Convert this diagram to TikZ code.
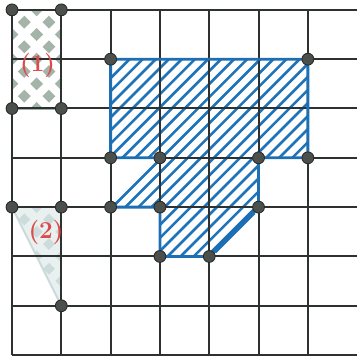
\documentclass[tikz,border=0pt]{standalone}
\definecolor{gridc}{RGB}{45,50,48}
\definecolor{bluec}{RGB}{30,110,180}
\definecolor{hatchc}{RGB}{30,115,185}
\definecolor{dotf}{RGB}{75,80,76}
\definecolor{dotd}{RGB}{40,42,40}
\definecolor{lblc}{RGB}{222,75,75}
\definecolor{diamc}{RGB}{165,180,168}
\definecolor{diamfc}{RGB}{190,205,205}
\definecolor{rectc}{RGB}{160,178,165}
\definecolor{trifill}{RGB}{232,240,240}
\definecolor{triedge}{RGB}{205,218,220}
\begin{document}
\begin{tikzpicture}[x=1cm,y=1cm,
  gridline/.style={draw=gridc, line width=1.15pt},
  blueline/.style={draw=bluec, line width=1.6pt, line join=round},
  hatchline/.style={draw=hatchc, line width=1.5pt},
  dot/.style={circle, fill=dotf, draw=dotd, line width=0.5pt, inner sep=0pt, minimum size=0.24cm},
  lbl/.style={text=lblc, font=\bfseries\fontsize{14}{16}\selectfont, inner sep=0pt},
  diam/.style={fill=diamc},
  diamfaint/.style={fill=diamfc, fill opacity=0.6}
]
\useasboundingbox (-0.243,-0.10) rectangle (6.98,7.20);

% shape (1): checkered rectangle
\begin{scope}
  \clip (0,5) rectangle (1,7);
  \fill[white] (0,5) rectangle (1,7);
  \foreach \a in {0,...,4} {
    \foreach \b in {20,...,28} {
      \pgfmathtruncatemacro{\myparity}{mod(\a+\b,2)}
      \ifnum\myparity=0
        \fill[diam] ({\a*0.25},{\b*0.25+0.13}) -- ({\a*0.25+0.13},{\b*0.25}) -- ({\a*0.25},{\b*0.25-0.13}) -- ({\a*0.25-0.13},{\b*0.25}) -- cycle;
      \fi
    }
  }
\end{scope}
\draw[draw=rectc, line width=1.2pt] (0,5) rectangle (1,7);

% shape (2): faint triangle
\begin{scope}
  \clip (0,3) -- (1,3) -- (1,1) -- cycle;
  \fill[fill=trifill] (0,3) -- (1,3) -- (1,1) -- cycle;
  \foreach \a in {0,...,4} {
    \foreach \b in {4,...,12} {
      \pgfmathtruncatemacro{\myparity}{mod(\a+\b,2)}
      \ifnum\myparity=0
        \fill[diamfaint] ({\a*0.25},{\b*0.25+0.12}) -- ({\a*0.25+0.12},{\b*0.25}) -- ({\a*0.25},{\b*0.25-0.12}) -- ({\a*0.25-0.12},{\b*0.25}) -- cycle;
      \fi
    }
  }
\end{scope}
\draw[draw=triedge, line width=1.2pt] (0,3) -- (1,1);

% blue hatched region
\begin{scope}
  \clip (2,6) -- (6,6) -- (6,4) -- (5,4) -- (5,3) -- (4,2) -- (3,2) -- (3,3) -- (2,3) -- (3,4) -- (2,4) -- cycle;
  \foreach \c in {-6,-5.735,...,6} {
    \draw[hatchline] ({\c-1},-1) -- ({\c+9},9);
  }
\end{scope}

% grid
\foreach \i in {0,...,6} {
  \draw[gridline] (\i,0) -- (\i,7);
}
\foreach \j in {0,...,7} {
  \draw[gridline] (0,\j) -- (7.1,\j);
}

% blue outline
\draw[blueline] (3,4) -- (2,4) -- (2,6) -- (6,6) -- (6,4) -- (5,4) -- (5,3) -- (4,2) -- (3,2) -- (3,3) -- (2,3);
\draw[blueline, line width=3pt] (4.1,2.1) -- (4.9,2.9);

% dots
\node[dot] (d07) at (0,7) {};
\node[dot] (d17) at (1,7) {};
\node[dot] (d05) at (0,5) {};
\node[dot] (d15) at (1,5) {};
\node[dot] (d26) at (2,6) {};
\node[dot] (d66) at (6,6) {};
\node[dot] (d24) at (2,4) {};
\node[dot] (d34) at (3,4) {};
\node[dot] (d54) at (5,4) {};
\node[dot] (d64) at (6,4) {};
\node[dot] (d03) at (0,3) {};
\node[dot] (d13) at (1,3) {};
\node[dot] (d23) at (2,3) {};
\node[dot] (d33) at (3,3) {};
\node[dot] (d53) at (5,3) {};
\node[dot] (d32) at (3,2) {};
\node[dot] (d42) at (4,2) {};
\node[dot] (d11) at (1,1) {};

% labels
\node[lbl] (l1) at (0.52,5.88) {(1)};
\node[lbl] (l2) at (0.69,2.48) {(2)};
\end{tikzpicture}
\end{document}
